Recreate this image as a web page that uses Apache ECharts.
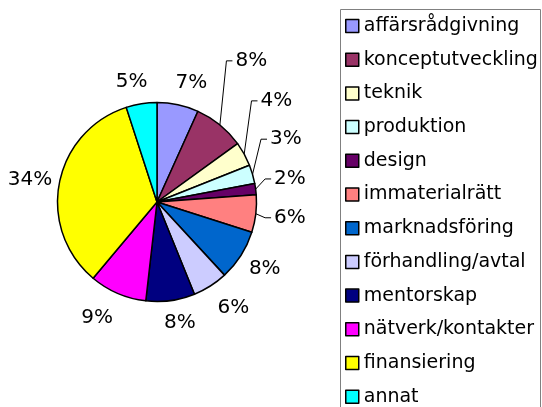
<!DOCTYPE html>
<html>
<head>
<meta charset="utf-8">
<script src="https://cdn.jsdelivr.net/npm/echarts@6/dist/echarts.min.js"></script>
<style>
html,body{margin:0;padding:0;background:#fff;}
#c{width:542px;height:407px;}
</style>
</head>
<body>
<div id="c"></div>
<script>
var categories = ['affärsrådgivning','konceptutveckling','teknik','produktion','design','immaterialrätt','marknadsföring','förhandling/avtal','mentorskap','nätverk/kontakter','finansiering','annat'];
var values = [6.75, 8.28, 3.94, 3.06, 1.8, 6.09, 8.22, 5.72, 7.94, 9.3, 33.9, 5.0];
var colors = ['#9999FF','#993366','#FFFFCC','#CCFFFF','#660066','#FF8080','#0066CC','#CCCCFF','#000080','#FF00FF','#FFFF00','#00FFFF'];
// label layout tweaks (offsets from the library's label anchor) and which labels use leader lines
var labelNudge = [[8.7,-0.7],[17.5,-47],[12.9,-42.6],[12.2,-28.9],[12.5,-7.3],[12.3,1.5],[5.3,1.7],[11.2,3.2],[6.3,0.9],[-11.9,4],[-7.7,0.9],[-6.3,0.2]];
var leader = [false,true,true,true,true,true,false,false,false,false,false,false];

var FONT = 'DejaVu Sans';
var chart = echarts.init(document.getElementById('c'), null, {renderer:'canvas'});
var data = categories.map(function(n,i){
  return {
    name: n, value: values[i],
    itemStyle: {color: colors[i]},
    labelLine: {lineStyle: {opacity: leader[i] ? 1 : 0}}
  };
});
chart.setOption({
  animation: false,
  backgroundColor: '#fff',
  legend: {
    orient: 'vertical',
    left: 345, top: 16, padding: 0,
    itemWidth: 13, itemHeight: 13, itemGap: 13.7,
    icon: 'rect',
    itemStyle: {borderColor: '#000', borderWidth: 1.5},
    textStyle: {fontFamily: FONT, fontSize: 19, lineHeight: 20, color: '#000'},
    data: categories,
    selectedMode: false
  },
  graphic: [{
    type: 'rect', z: -1,
    shape: {x: 340.5, y: 9.5, width: 200, height: 420},
    style: {fill: 'none', stroke: '#808080', lineWidth: 1}
  }],
  series: [{
    type: 'pie',
    center: [157, 202],
    radius: 99.5,
    startAngle: 90,
    clockwise: true,
    avoidLabelOverlap: false,
    emphasis: {disabled: true},
    itemStyle: {borderColor: '#000', borderWidth: 1.5},
    label: {
      show: true, position: 'outside',
      fontFamily: FONT, fontSize: 20, color: '#000',
      distanceToLabelLine: 0,
      formatter: function(p){ return Math.round(p.percent) + '%'; }
    },
    labelLine: {show: true, length: 22, length2: 0, lineStyle: {color: '#000', width: 1}},
    labelLayout: function(p){
      var i = p.dataIndex;
      var pts = p.labelLinePoints;
      var a = pts[1];
      var nd = labelNudge[i];
      var cx = a[0] + nd[0], cy = a[1] + nd[1];
      var res = {x: cx, y: cy, align: 'center', verticalAlign: 'middle'};
      if (leader[i]) {
        var left = cx - p.labelRect.width / 2;
        res.labelLinePoints = [[pts[0][0], pts[0][1]], [left - 9, cy], [left - 3, cy]];
      } else {
        res.labelLinePoints = [[pts[0][0], pts[0][1]], [pts[0][0], pts[0][1]], [pts[0][0], pts[0][1]]];
      }
      return res;
    },
    data: data
  }]
});
</script>
</body>
</html>
